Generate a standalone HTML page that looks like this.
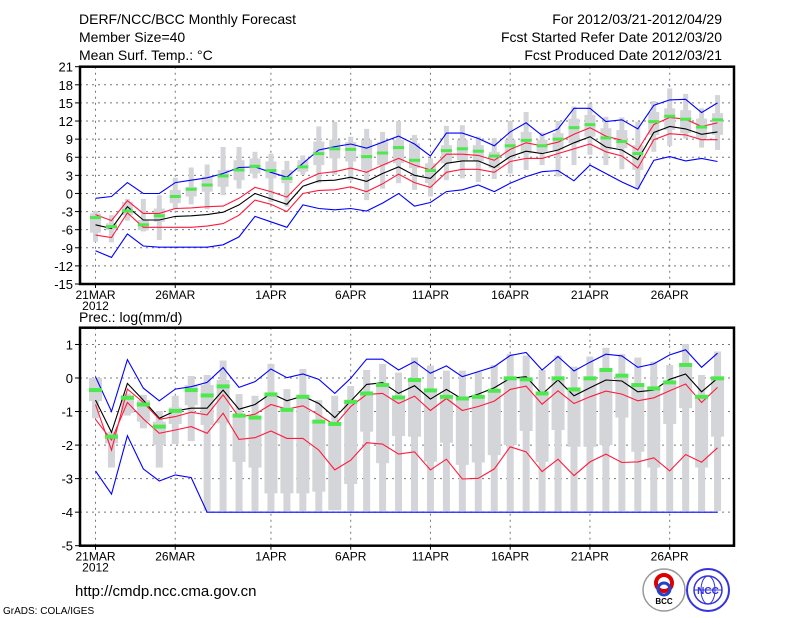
<!DOCTYPE html>
<html><head><meta charset="utf-8"><style>
body{margin:0;background:#fff;}
svg{display:block;font-family:"Liberation Sans",sans-serif;}
</style></head><body>
<svg id="chart" width="800" height="618" viewBox="0 0 800 618">
<g font-size="14" fill="#000">
<text x="79" y="24">DERF/NCC/BCC Monthly Forecast</text>
<text x="79" y="42">Member Size=40</text>
<text x="79" y="60">Mean Surf. Temp.: °C</text>
<text x="722" y="24" text-anchor="end">For 2012/03/21-2012/04/29</text>
<text x="722" y="42" text-anchor="end">Fcst Started Refer Date 2012/03/20</text>
<text x="722" y="60" text-anchor="end">Fcst Produced Date 2012/03/21</text>
<text x="79" y="322">Prec.: log(mm/d)</text>
<text x="75" y="596" font-size="15">http://cmdp.ncc.cma.gov.cn</text>
<text x="3" y="614" font-size="10">GrADS: COLA/IGES</text>
</g>
<g>
<circle cx="664" cy="590" r="21" fill="#fff" stroke="#999" stroke-width="1.5"/>
<circle cx="664" cy="583" r="8" fill="none" stroke="#d00" stroke-width="4"/>
<circle cx="664" cy="589" r="6" fill="none" stroke="#24c" stroke-width="3"/>
<text x="664" y="604" font-size="8" text-anchor="middle" font-weight="bold">BCC</text>
</g>
<g>
<circle cx="708" cy="590" r="21" fill="#fff" stroke="#33d" stroke-width="2"/>
<circle cx="708" cy="590" r="14" fill="none" stroke="#33d" stroke-width="1.5"/>
<ellipse cx="708" cy="590" rx="7" ry="14" fill="none" stroke="#33d" stroke-width="1"/>
<line x1="694" y1="590" x2="722" y2="590" stroke="#33d"/>
<text x="708" y="594" font-size="10" text-anchor="middle" fill="#33d" font-weight="bold">NCC</text>
</g>
<g id="topPanel"></g>
<g id="botPanel"></g>
</svg>
<script>
// ---- Temperature data (days 0..39 starting 21MAR) ----
const dayLabels = ["21MAR","26MAR","1APR","6APR","11APR","16APR","21APR","26APR"];
const dayLabelIdx = [0,5,11,16,21,26,31,36];
const tTicks = [21,18,15,12,9,6,3,0,-3,-6,-9,-12,-15];
const tBlueHi = [-0.8,-0.5,1.8,0,0,1.8,2.2,2.6,3.3,4.3,4.4,3.5,2.7,5,7.2,7.75,8.2,7.5,8.5,9.5,8.2,6.2,10,10,9.1,7.9,10.2,11.7,9.6,10.7,14.1,14.1,11.9,12.2,10.7,14.6,15.5,15.6,13.4,15.0];
const tRedHi = [-3.5,-4.5,-1.2,-3.3,-3.3,-2.5,-2.4,-2.2,-2.1,-0.8,1,0.3,-0.6,2.1,3.3,3.6,4.2,3.5,4.7,5.8,4.7,3.9,6.5,6.5,6.3,5.5,7.3,8.4,7.9,8.5,9.8,10.9,9.5,8.8,7.2,11.4,12.6,12.3,11.1,11.7];
const tMean = [-5.2,-5.8,-2.2,-4.4,-4.4,-3.8,-3.7,-3.5,-3.1,-1.9,0,-0.9,-1.8,1.2,2.1,2.2,2.7,2.0,3.3,4.4,3.0,2.5,5.0,5.4,5.4,4.3,6.1,7.0,6.6,7.2,8.4,9.4,7.7,7.2,5.6,10.1,11.1,10.7,9.8,10.2];
const tRedLo = [-6.9,-7.3,-3.2,-5.6,-5.6,-5.6,-5.6,-5.4,-5,-3.6,-1.1,-1.8,-3,0,0.5,0.6,1.1,0.3,1.6,3.2,1.8,1.0,3.5,4.0,4.0,3.5,5.3,5.8,5.8,6.6,7.4,8.2,6.9,6.2,4.2,8.9,9.9,9.7,8.9,8.9];
const tBlueLo = [-9.5,-10.6,-6.7,-8.7,-8.9,-8.9,-8.9,-8.9,-8.5,-7.2,-3.8,-4.7,-5.6,-1.9,-2.5,-2.7,-2.5,-2.9,-1.6,0,-2.1,-1.5,0.3,0.6,1.4,0.3,1.7,2.8,3.6,3.8,2.1,4.7,3.3,1.9,0.7,5.5,6.1,5.4,5.8,5.3];
const tMedian = [-4,-5.5,-2.9,-5.2,-3.7,-0.5,0.7,1.4,2.9,3.9,4.5,3.8,2.5,4.4,6.6,7.4,7.3,6.1,6.7,7.6,5.5,3.8,7.1,7.4,7,6.2,7.9,8.8,7.9,9,10.9,11.4,9.2,8.6,6.6,11.9,12.8,12.3,11,12.2];
const tMax = [-2.9,-3.6,-0.9,-0.9,-0.3,2.6,4.3,4.8,7.7,7.7,6.9,6.6,5.4,6.3,11.1,11.9,9.4,10.7,10.2,12,9.7,5.8,11.2,11.3,9.4,9.2,12,13.5,10.1,12,14.4,14.9,12.7,12.6,11.9,15.3,17.4,16.5,14.1,16.3];
const tQ3 = [-3.3,-4.95,-1.4,-4.4,-2.5,0.6,1.1,2.8,3.9,5.5,5.8,5.3,3.9,5.5,8.6,8.9,8.5,8.9,8.5,8.9,8.3,5,8,8.9,8,6.9,8.9,10.2,8.9,10,12.4,13,10.8,10.5,8,13.5,14.1,13.8,12.4,13.3];
const tQ1 = [-6.5,-6.06,-3.6,-6.1,-4.7,-1.6,-0.5,0.3,1.1,2.2,3.3,2.5,1.7,3.6,4.7,5.8,5.3,3.9,4.7,5,4.2,1.7,5,5.5,5.3,4.2,5.8,6.6,6.9,7.2,8.3,9.4,7.2,7.5,3.9,9.7,10.5,10,9.2,9.7];
const tMin = [-8,-8.1,-4.5,-6.3,-7.7,-2.6,-1.8,-2.6,-0.3,0.8,2.5,-1.4,-2.2,3.1,1.7,3.1,2.2,-1.1,0.8,1.7,0.6,-0.5,2.2,2.5,1.9,2.4,3.3,3.9,4.7,2.8,4.7,6.4,4.7,4,0.8,6.9,7.9,9.1,7.6,7.2];

// ---- Precipitation data ----
const pTicks = [1,0,-1,-2,-3,-4,-5];
const pBlueHi = [0.04,-1,0.55,-0.3,-0.68,-0.33,-0.26,-0.13,0.31,-0.28,-0.11,0.27,0.01,0.12,-0.04,-0.46,-0.01,0.56,0.56,0.24,0.49,0.14,0.36,0.04,0.19,0.34,0.67,0.76,0.24,0.64,0.21,0.47,0.71,0.66,0.32,0.42,0.69,0.84,0.32,0.74];
const pRedHi = [-0.79,-2.15,-0.33,-0.73,-1.23,-1.15,-1.02,-1.1,-0.5,-1.17,-1.08,-0.79,-0.93,-0.83,-1.1,-1.4,-0.85,-0.49,-0.46,-0.76,-0.54,-0.97,-0.61,-0.97,-0.85,-0.69,-0.34,-0.24,-0.78,-0.38,-0.76,-0.56,-0.39,-0.48,-0.68,-0.59,-0.38,-0.18,-0.73,-0.28];
const pMean = [-0.66,-1.62,-0.16,-0.66,-1.2,-0.98,-0.9,-0.9,-0.36,-0.93,-0.79,-0.46,-0.68,-0.54,-0.76,-1.18,-0.69,-0.19,-0.14,-0.46,-0.23,-0.63,-0.34,-0.63,-0.48,-0.29,-0.01,0.04,-0.48,-0.06,-0.53,-0.29,-0.06,-0.09,-0.41,-0.36,-0.04,0.12,-0.41,-0.01];
const pRedLo = [-1.23,-1.85,-0.73,-1.22,-1.65,-1.55,-1.45,-1.65,-1.05,-1.83,-1.78,-1.58,-1.8,-1.8,-2.15,-2.74,-2.45,-1.93,-1.97,-2.27,-2.2,-2.74,-2.42,-3.01,-2.99,-2.71,-2.05,-2.2,-2.79,-2.42,-2.91,-2.5,-2.27,-2.52,-2.5,-2.38,-2.77,-2.28,-2.51,-2.08];
const pBlueLo = [-2.77,-3.46,-1.72,-2.71,-3.07,-2.89,-2.97,-4,-4,-4,-4,-4,-4,-4,-4,-4,-4,-4,-4,-4,-4,-4,-4,-4,-4,-4,-4,-4,-4,-4,-4,-4,-4,-4,-4,-4,-4,-4,-4,-4];
const pMedian = [-0.36,-1.75,-0.59,-0.79,-1.45,-0.98,-0.36,-0.52,-0.25,-1.12,-1.18,-0.49,-0.95,-0.56,-1.3,-1.37,-0.71,-0.46,-0.21,-0.58,-0.06,-0.37,-0.56,-0.61,-0.56,-0.38,-0.01,-0.04,-0.46,-0.01,-0.34,-0.01,0.24,0.07,-0.21,-0.31,-0.13,0.39,-0.56,-0.01];
const pMax = [-0.01,-1.6,-0.46,-0.5,-0.98,-0.53,0.06,0.09,0.52,-0.48,-0.53,0.42,-0.33,0.27,-0.66,-0.53,-0.24,0.24,0.42,0.16,0.61,0.37,0.22,0.22,0.19,0.39,0.72,0.67,0.24,0.67,0.34,0.64,0.9,0.71,0.61,0.49,0.39,1.01,0.09,0.79];
const pQ3 = [0,-1.65,-0.51,-0.66,-1.3,-0.88,-0.21,-0.21,-0.06,-1.1,-1.15,-0.5,-0.9,-0.5,-1.3,-1.35,-0.71,-0.46,-0.21,-0.61,-0.06,-0.41,-0.56,-0.59,-0.56,-0.36,-0.01,-0.04,-0.46,-0.01,-0.31,-0.01,0.24,0.07,-0.21,-0.31,-0.13,0.39,-0.54,-0.01];
const pQ1 = [-0.69,-1.95,-1.05,-1.3,-2,-1.37,-0.81,-1.4,-1.35,-2.5,-2.67,-3.44,-3.44,-3.44,-3.39,-3.94,-3.16,-1.6,-2.54,-1.73,-1.75,-2.5,-1.93,-2.59,-2.52,-2.3,-2,-1.58,-2.5,-1.55,-2.05,-2.05,-2,-1.18,-2.2,-2.67,-1.37,-0.9,-2.67,-1.75];
const pMin = [-1.2,-2.67,-1.12,-1.5,-2.67,-1.97,-1.88,-3.97,-3.97,-3.97,-3.97,-3.97,-3.97,-3.97,-3.97,-3.94,-3.97,-3.97,-3.97,-3.97,-3.97,-3.97,-3.97,-3.97,-3.97,-3.97,-3.97,-3.97,-3.97,-3.97,-3.97,-3.97,-3.97,-3.97,-3.97,-3.97,-3.97,-3.97,-3.97,-3.97];

const NS = "http://www.w3.org/2000/svg";
const X0 = 80, X1 = 734;
function xDay(d){ return 95.5 + 15.95*d; }
function mk(parent, tag, attrs){
  const e = document.createElementNS(NS, tag);
  for (const k in attrs) e.setAttribute(k, attrs[k]);
  parent.appendChild(e); return e;
}
function drawPanel(g, cfg){
  const y = v => cfg.yBot - (v - cfg.vMin) * (cfg.yBot - cfg.yTop) / (cfg.vMax - cfg.vMin);
  cfg.ticks.forEach(t => {
    const gl = mk(g,'line',{x1:X0,x2:X1,y1:y(t),y2:y(t),stroke:'#777','stroke-dasharray':'2,4','stroke-width':1});
    
    
    const tk = mk(g,'line',{x1:X0-5,x2:X0,y1:y(t),y2:y(t),stroke:'#000'});
    
    
    const tl = mk(g,'text',{x:X0-7,y:y(t)+5,'text-anchor':'end','font-size':13});
    tl.textContent = t;
    
    
  });
  dayLabelIdx.forEach((d,i) => {
    const xx = xDay(d);
    const gl = mk(g,'line',{x1:xx,x2:xx,y1:cfg.yTop,y2:cfg.yBot,stroke:'#777','stroke-dasharray':'2,4'});
    
    
    const tk = mk(g,'line',{x1:xx,x2:xx,y1:cfg.yBot,y2:cfg.yBot+4,stroke:'#000'});
    
    
    const tl = mk(g,'text',{x:xx,y:cfg.yBot+15,'text-anchor':'middle','font-size':12});
    tl.textContent = dayLabels[i];
    
    
  });
  const yr = mk(g,'text',{x:xDay(0),y:cfg.yBot+26,'text-anchor':'middle','font-size':12});
  yr.textContent = '2012';
  
  
  cfg.mx.forEach((_,d) => {
    const xx = xDay(d);
    const w = mk(g,'rect',{x:xx-cfg.tw/2,y:y(cfg.mx[d]),width:cfg.tw,height:Math.max(0,y(cfg.mn[d])-y(cfg.mx[d])),fill:'#d4d5d9'});
    
    
    const b = mk(g,'rect',{x:xx-cfg.bw/2,y:y(cfg.q3[d]),width:cfg.bw,height:Math.max(0,y(cfg.q1[d])-y(cfg.q3[d])),fill:'#d4d5d9'});
    
    
  });
  const series = [[cfg.blo,'#0000ff','lower-blue-line'],[cfg.rlo,'#ff1a3c','lower-red-line'],[cfg.mean,'#000','mean-line'],[cfg.rhi,'#ff1a3c','upper-red-line'],[cfg.bhi,'#0000ff','upper-blue-line']];
  series.forEach(s => {
    const pts = s[0].map((v,d) => xDay(d).toFixed(1)+','+y(v).toFixed(1)).join(' ');
    const pl = mk(g,'polyline',{points:pts,fill:'none',stroke:s[1],'stroke-width':1.1});
    
    
  });
  cfg.med.forEach((v,d) => {
    const r = mk(g,'rect',{x:xDay(d)-cfg.gw/2,y:y(v)-cfg.gh/2,width:cfg.gw,height:cfg.gh,fill:'#4de84d'});
    
    
  });
  const fr = mk(g,'rect',{x:X0,y:cfg.yTop,width:X1-X0,height:cfg.yBot-cfg.yTop,fill:'none',stroke:'#000','stroke-width':2.5});
  
  
}
const topG = document.getElementById('topPanel');


drawPanel(topG,{yTop:66.7,yBot:284,vMin:-15,vMax:21,ticks:tTicks,mx:tMax,mn:tMin,q3:tQ3,q1:tQ1,bhi:tBlueHi,rhi:tRedHi,mean:tMean,rlo:tRedLo,blo:tBlueLo,med:tMedian,tw:5,bw:11,gw:11,gh:3});
const botG = document.getElementById('botPanel');


drawPanel(botG,{yTop:327.7,yBot:545.7,vMin:-5,vMax:1.5,ticks:pTicks,mx:pMax,mn:pMin,q3:pQ3,q1:pQ1,bhi:pBlueHi,rhi:pRedHi,mean:pMean,rlo:pRedLo,blo:pBlueLo,med:pMedian,tw:7,bw:13,gw:13,gh:4});
</script>
</body></html>
